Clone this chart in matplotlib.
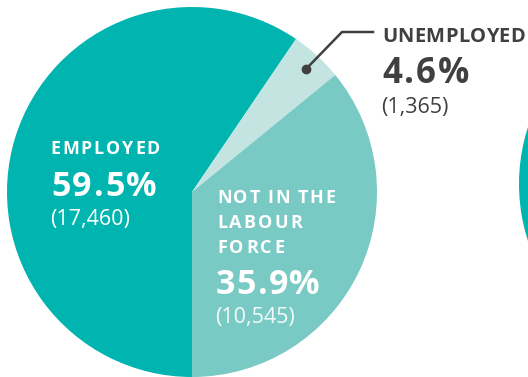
import matplotlib
matplotlib.use("Agg")
import matplotlib.pyplot as plt
from matplotlib.font_manager import FontProperties, findfont
from matplotlib.ft2font import FT2Font

# data
categories = ["EMPLOYED", "UNEMPLOYED", "NOT IN THE\nLABOUR\nFORCE"]
shares = [59.5, 4.6, 35.9]
counts = [17460, 1365, 10545]
colors = ["#00B5AF", "#C4E4E2", "#79C9C4"]

W, H, DPI = 528, 377, 100
FONT = "Open Sans"

fig = plt.figure(figsize=(W / DPI, H / DPI), dpi=DPI)
ax = fig.add_axes([0, 0, 1, 1])

# main pie (pixel coords, y up)
ax.pie(shares, colors=colors, startangle=270, counterclock=False,
       center=(192, H - 192), radius=185, wedgeprops={"linewidth": 0})
# next pie, only its edge shows at the right
ax.pie(shares, colors=colors, startangle=270, counterclock=False,
       center=(704, H - 184), radius=185, wedgeprops={"linewidth": 0})

ax.set_xlim(0, W)
ax.set_ylim(0, H)
ax.axis("off")


def spaced_text(x, y, s, size, weight, color, width=None):
    # draw letter by letter, spacing chosen so the word spans `width` px
    prop = FontProperties(family=FONT, weight=weight, size=size)
    if width is None:
        ax.text(x, H - y, s, fontproperties=prop, color=color,
                ha="left", va="baseline")
        return
    font = FT2Font(findfont(prop))
    font.set_size(size, DPI)
    adv = [font.load_char(ord(c)).linearHoriAdvance / 65536 for c in s]
    track = (width - sum(adv)) / max(len(s) - 1, 1)
    for c, a in zip(s, adv):
        ax.text(x, H - y, c, fontproperties=prop, color=color,
                ha="left", va="baseline")
        x += a + track


# EMPLOYED
spaced_text(50, 154, categories[0], 12.8, "bold", "white", 110)
spaced_text(51, 196, f"{shares[0]:.1f}%", 24.5, "bold", "white", 106)
spaced_text(50, 225, f"({counts[0]:,})", 15.5, "normal", "white")

# NOT IN THE LABOUR FORCE
nilf_widths = [118, 85, 67]
for i, line in enumerate(categories[2].split("\n")):
    spaced_text(217, 203 + 25 * i, line, 13, "bold", "white", nilf_widths[i])
spaced_text(216, 294, f"{shares[2]:.1f}%", 24.5, "bold", "white", 104)
spaced_text(215, 323, f"({counts[2]:,})", 15.5, "normal", "#F4FBFA")

# UNEMPLOYED
spaced_text(382, 42, categories[1], 14.5, "bold", "#404040", 143)
spaced_text(382, 83, f"{shares[1]:.1f}%", 25, "bold", "#404040", 87)
spaced_text(381, 113, f"({counts[1]:,})", 15.5, "normal", "#404040")

# leader line for unemployed
ax.plot([306, 342, 373], [H - 69, H - 32, H - 32], color="#404040", lw=1.8)
ax.plot([306], [H - 69], "o", color="#404040", ms=6)

fig.savefig("out.png", dpi=DPI)
